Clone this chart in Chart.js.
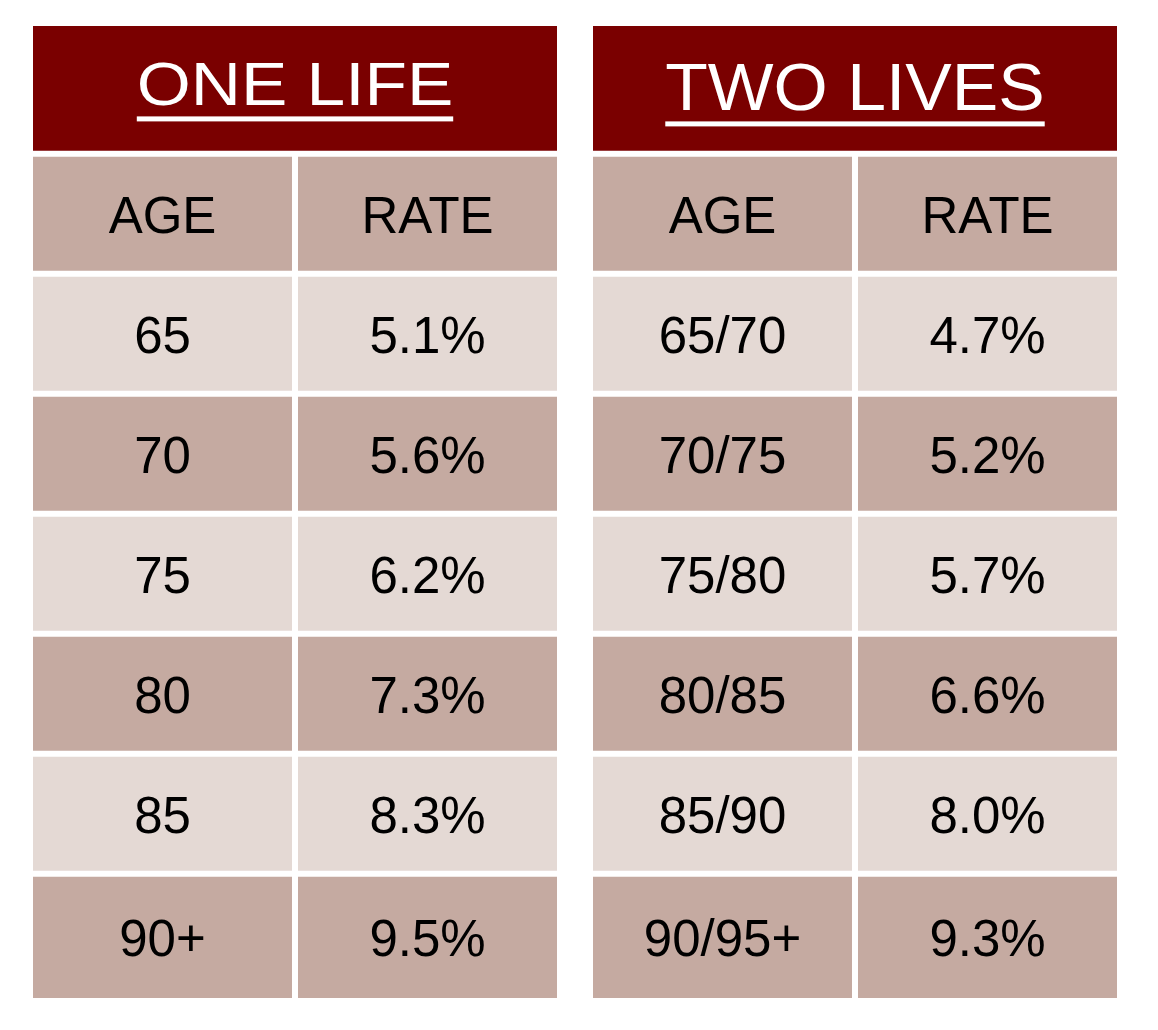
<!DOCTYPE html>
<html>
<head>
<meta charset="utf-8">
<title>Rates table</title>
<script src="https://cdn.jsdelivr.net/npm/chart.js@4.4.1/dist/chart.umd.min.js"></script>
<style>
  html, body { margin: 0; padding: 0; background: #ffffff; }
  #wrap { position: relative; width: 1158px; height: 1030px; }
</style>
</head>
<body>
<div id="wrap"><canvas id="rate-table"></canvas></div>
<script>
/* ===== data ===== */
const tableTitles = ["ONE LIFE", "TWO LIVES"];
const columnHeads = ["AGE", "RATE"];
const oneLifeAges = ["65", "70", "75", "80", "85", "90+"];
const oneLifeRates = [5.1, 5.6, 6.2, 7.3, 8.3, 9.5];
const twoLivesAges = ["65/70", "70/75", "75/80", "80/85", "85/90", "90/95+"];
const twoLivesRates = [4.7, 5.2, 5.7, 6.6, 8.0, 9.3];

/* ===== styles ===== */
const RED = "#7a0000";
const TAN = "#c5aaa1";
const LIGHT = "#e4d9d4";
const GAP = 3;                 // white border on each side of a cell
const HEADER_SPAN = 1.09;      // header height, in row units
const LAST_SPAN = 1.06;        // last row is a touch taller
const FONT = "'Liberation Sans', Arial, sans-serif";
const titleStyle = [
  { size: 62, stretch: 1.12, drop: 16.5 },
  { size: 67, stretch: 1.04, drop: 21.5 },
];

const tableAges = [oneLifeAges, twoLivesAges];
const tableRates = [oneLifeRates, twoLivesRates];
const rowCount = oneLifeAges.length + 1;   // column heads + data rows

function cellText(row, col, table) {
  if (row === 0) return columnHeads[col];
  if (col === 0) return tableAges[table][row - 1];
  return tableRates[table][row - 1].toFixed(1) + "%";
}

/* ===== datasets: one floating bar per cell ===== */
const datasets = columnHeads.map((head, c) => ({
  label: "header-" + head,
  stack: head,
  isHeader: true,
  data: tableTitles.map(() => [-HEADER_SPAN, 0]),
  backgroundColor: RED,
  borderColor: "#ffffff",
  borderWidth: c === 0
    ? { top: GAP, bottom: GAP, left: GAP, right: 0 }
    : { top: GAP, bottom: GAP, left: 0, right: GAP },
}));

for (let r = 0; r < rowCount; r++) {
  columnHeads.forEach((head, c) => {
    const end = r === rowCount - 1 ? r + LAST_SPAN : r + 1;
    datasets.push({
      label: `row${r}-${head}`,
      stack: head,
      rowIndex: r,
      colIndex: c,
      data: tableTitles.map(() => [r, end]),
      backgroundColor: r % 2 === 0 ? TAN : LIGHT,
      borderColor: "#ffffff",
      borderWidth: GAP,
    });
  });
}

/* ===== text on top of the bars ===== */
const cellLabels = {
  id: "cellLabels",
  afterDatasetsDraw(chart) {
    const { ctx } = chart;
    const xScale = chart.scales.x;
    ctx.save();

    chart.data.datasets.forEach((ds, i) => {
      const meta = chart.getDatasetMeta(i);

      if (ds.isHeader) {
        if (i !== 0) return;
        meta.data.forEach((bar, t) => {
          const st = titleStyle[t];
          const cx = xScale.getPixelForValue(t);
          const cy = (bar.y + bar.base) / 2;
          const baseline = cy + st.drop;
          ctx.font = `${st.size}px ${FONT}`;
          const w = ctx.measureText(tableTitles[t]).width * st.stretch;
          ctx.fillStyle = "#ffffff";
          ctx.save();
          ctx.translate(cx, baseline);
          ctx.scale(st.stretch, 1);
          ctx.textAlign = "center";
          ctx.textBaseline = "alphabetic";
          ctx.fillText(tableTitles[t], 0, 0);
          ctx.restore();
          ctx.fillRect(cx - w / 2, baseline + 11.5, w, 5);
        });
        return;
      }

      ctx.font = `51px ${FONT}`;
      ctx.fillStyle = "#000000";
      ctx.textAlign = "center";
      ctx.textBaseline = "alphabetic";
      meta.data.forEach((bar, t) => {
        const cy = (bar.y + bar.base) / 2;
        ctx.fillText(cellText(ds.rowIndex, ds.colIndex, t), bar.x, cy + 19);
      });
    });

    ctx.restore();
  },
};

new Chart(document.getElementById("rate-table"), {
  type: "bar",
  data: { labels: tableTitles, datasets },
  options: {
    responsive: true,
    maintainAspectRatio: false,
    animation: false,
    events: [],
    layout: { padding: { left: 15, right: 23, top: 23, bottom: 29 } },
    datasets: {
      bar: {
        categoryPercentage: 530 / 560,
        barPercentage: 1,
        borderSkipped: false,
        inflateAmount: 0,
      },
    },
    plugins: {
      legend: { display: false },
      tooltip: { enabled: false },
    },
    scales: {
      x: { type: "category", display: false, offset: true, grid: { display: false } },
      y: {
        type: "linear",
        display: false,
        reverse: true,
        stacked: false,
        min: -HEADER_SPAN,
        max: rowCount - 1 + LAST_SPAN,
        grid: { display: false },
      },
    },
  },
  plugins: [cellLabels],
});
</script>
</body>
</html>
